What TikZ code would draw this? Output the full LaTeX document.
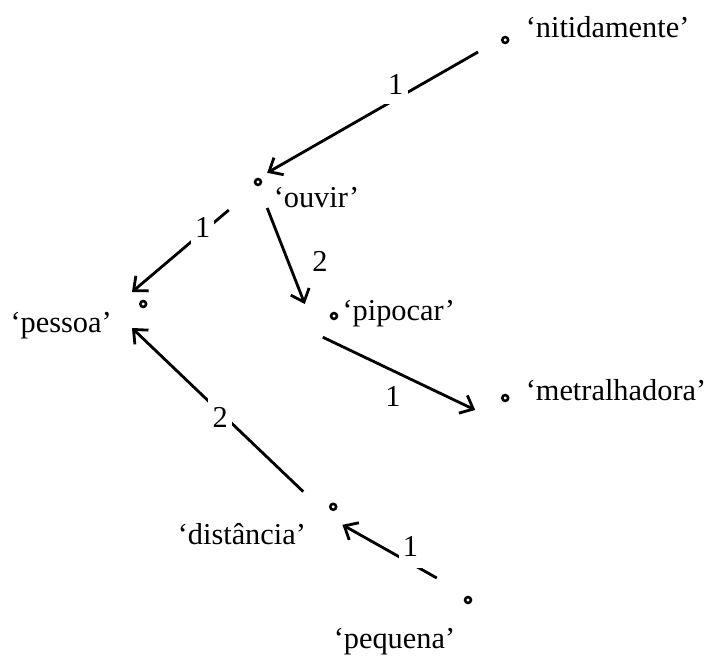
\documentclass[tikz,border=0pt]{standalone}
\usepackage{fontspec}
\setmainfont{Liberation Serif}
\usepackage{tikz}
\usetikzlibrary{arrows.meta, positioning, calc}

\begin{document}
\begin{tikzpicture}[scale=0.5,
    pt/.style={circle, draw, line width=0.9pt, inner sep=0pt, minimum size=2.1pt},
    word/.style={inner sep=0pt, anchor=base west, font=\fontsize{10.8}{13}\selectfont},
    num/.style={inner sep=1pt, font=\fontsize{10.8}{13}\selectfont},
    cut/.style={num, fill=white, inner xsep=1.5pt, inner ysep=3.5pt},
    arr/.style={-{Straight Barb[length=4pt, width=7pt]}, line width=1pt}]
\useasboundingbox (0,0) rectangle (17.8,16.45);
% Points
\node[pt] (nit) at (12.63,15.45) {};
\node[pt] (ouv) at (6.45,11.9) {};
\node[pt] (pes) at (3.58,8.85) {};
\node[pt] (pip) at (8.35,8.55) {};
\node[pt] (met) at (12.63,6.5) {};
\node[pt] (dis) at (8.33,3.78) {};
\node[pt] (peq) at (11.7,1.45) {};
% Words
\node[word] (nitw) at (13.13,15.5) {‘nitidamente’};
\node[word] (ouvw) at (6.83,11.25) {‘ouvir’};
\node[word] (pesw) at (0.25,8.15) {‘pessoa’};
\node[word] (pipw) at (8.55,8.45) {‘pipocar’};
\node[word] (metw) at (13.13,6.45) {‘metralhadora’};
\node[word] (disw) at (4.43,2.83) {‘distância’};
\node[word] (peqw) at (8.33,0.25) {‘pequena’};
% Arcs
\draw[arr] ($(nit)+(-0.68,-0.3)$) -- node[cut, pos=.39, yshift=5.3pt] {1} ($(ouv)+(0.23,0.23)$);
\draw[arr] ($(ouv)+(-0.73,-0.7)$) -- node[cut, pos=.27, yshift=1.8pt] {1} ($(pes)+(-0.28,0.3)$);
\draw[arr] ($(ouv)+(0.23,-0.65)$) -- node[num, pos=.56, right=2.5mm] {2} ($(pip)+(-0.73,0.3)$);
\draw[arr] ($(pip)+(-0.28,-0.53)$) -- node[num, pos=.46, below=1.5mm] {1} ($(met)+(-0.75,-0.3)$);
\draw[arr] ($(dis)+(-0.75,0.38)$) -- node[cut, pos=.485, yshift=-2pt] {2} ($(pes)+(-0.28,-0.6)$);
\draw[arr] ($(peq)+(-0.78,0.55)$) -- node[cut, pos=.28, yshift=6pt, inner ysep=4pt] {1} ($(dis)+(0.23,-0.45)$);
\end{tikzpicture}
\end{document}
